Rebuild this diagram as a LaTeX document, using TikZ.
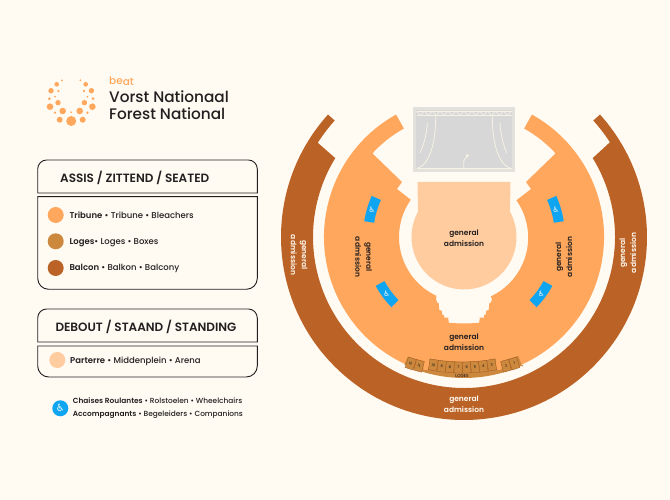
\documentclass[tikz,border=0pt]{standalone}
\usepackage{fontspec}
\setmainfont{Poppins Medium}[BoldFont={Poppins SemiBold}]
\newfontfamily\iconfont{DejaVu Sans}
\definecolor{paper}{HTML}{FFFBF3}
\definecolor{balcon}{HTML}{BB6326}
\definecolor{tribune}{HTML}{FFA85D}
\definecolor{loge}{HTML}{CC893E}
\definecolor{parterre}{HTML}{FFCC9F}
\definecolor{wheel}{HTML}{0FA5F0}
\definecolor{ink}{HTML}{231F20}
\definecolor{stagegray}{HTML}{D6D7D6}
\definecolor{stageedge}{HTML}{E2E1DC}
\definecolor{stageline}{HTML}{F8F2E4}
\tikzset{
	swatch/.style={circle,inner sep=0pt,minimum size=16pt},
	legendbox/.style={draw=ink,line width=0.9pt},
	headtext/.style={anchor=base west,inner sep=0pt,text=ink,font=\fontsize{12}{12}\selectfont\bfseries},
	legendtext/.style={anchor=base west,inner sep=0pt,text=ink,font=\fontsize{8.5}{9}\selectfont},
	smalltext/.style={anchor=base west,inner sep=0pt,text=ink,font=\fontsize{7.4}{8}\selectfont},
	gatext/.style={align=center,text=ink,font=\fontsize{7.5}{11}\selectfont\bfseries},
	logotext/.style={anchor=base west,inner sep=0pt,text=ink,font=\fontsize{15.3}{16}\selectfont},
	logebox/.style={draw=balcon!85!black,line width=0.3pt,fill=loge,inner sep=0pt,minimum width=8.2pt,minimum height=11pt,text=ink,font=\fontsize{3.6}{4}\selectfont},
	stagepen/.style={draw=stageline,line width=0.8pt},
}
\begin{document}
\begin{tikzpicture}[x=1pt,y=1pt]
	\fill[paper] (0,0) rectangle (670,500);
	\useasboundingbox (0,0) rectangle (670,500);

	% logo
	\fill[tribune] (71.2,379) circle (5);
	\fill[tribune] (71.2,387.7) circle (1);
	\foreach \dx/\yy/\rr in {11.5/380.3/3,8.5/389/3.3,21.2/393.3/3.3,13.2/397.3/2.7,21.8/401.3/1.5,20.2/409.3/2.7,12.8/409/1.3,16.2/403.3/1,14.5/415.7/2.3,9.2/419.7/1,16.2/387.3/1.3}{
		\fill[tribune] (71.2-\dx,\yy) circle (\rr);
		\fill[tribune] (71.2+\dx,\yy) circle (\rr);
	}
	\node[anchor=base west,inner sep=0pt,text=tribune,font=\fontsize{10.5}{10}\selectfont] (beat) at (109,415.7) {be\raisebox{-1.5pt}{at}};
	\node[logotext] (vorst) at (109,397.4) {Vorst Nationaal};
	\node[logotext] (forest) at (109,380.7) {Forest National};

	% seated legend
	\draw[legendbox] (37.7,307) {[rounded corners=9] -- (37.7,340) -- (257.3,340)} -- (257.3,307) -- cycle;
	\node[headtext] (seated) at (60,317.7) {ASSIS / ZITTEND / SEATED};
	\draw[legendbox] (37.7,303.3) {[rounded corners=11] -- (37.7,210.7) -- (257.3,210.7)} -- (257.3,303.3) -- cycle;
	\node[swatch,fill=tribune] (c1) at (55.7,285) {};
	\node[swatch,fill=loge] (c2) at (55.7,258.7) {};
	\node[swatch,fill=balcon] (c3) at (55.7,232) {};
	\node[legendtext] (t1) at (69.3,281) {\textbf{Tribune} • Tribune • Bleachers};
	\node[legendtext] (t2) at (69.3,255) {\textbf{Loges}• Loges • Boxes};
	\node[legendtext] (t3) at (69.3,229) {\textbf{Balcon} • Balkon • Balcony};

	% standing legend
	\draw[legendbox] (37.7,158) {[rounded corners=9] -- (37.7,191) -- (257.3,191)} -- (257.3,158) -- cycle;
	\node[headtext] (standing) at (55.3,168.4) {DEBOUT / STAAND / STANDING};
	\draw[legendbox] (37.7,154) {[rounded corners=11] -- (37.7,123) -- (257.3,123)} -- (257.3,154) -- cycle;
	\node[swatch,fill=parterre] (c4) at (57.3,140) {};
	\node[legendtext] (t4) at (70,136.3) {\textbf{Parterre} • Middenplein • Arena};

	% wheelchairs
	\node[swatch,fill=wheel,text=white,font=\iconfont\fontsize{10}{10}\selectfont] (c5) at (60.3,91.7) {♿};
	\node[smalltext] (t5) at (72.7,96) {\textbf{Chaises Roulantes} • Rolstoelen • Wheelchairs};
	\node[smalltext] (t6) at (72.7,83) {\textbf{Accompagnants} • Begeleiders • Companions};

	\begin{scope}[shift={(464,263)}]
		% balcon
		\fill[balcon] (138:183) arc[start angle=138,end angle=402,radius=183]
			-- (42:174) arc[start angle=42,end angle=33,radius=174]
			-- (31.5:151) arc[start angle=391.5,end angle=148.5,radius=151]
			-- (147.2:174) arc[start angle=147.2,end angle=138,radius=174] -- cycle;

		% tribune
		\fill[tribune] (119:140) arc[start angle=119,end angle=421,radius=140]
			-- (61:124) arc[start angle=61,end angle=42.4,radius=124]
			-- (62,55) -- (67,48) -- (35:64) arc[start angle=35,end angle=-65,radius=65]
			-- (28,-62) -- (26.7,-66) -- (25.3,-66) -- (24.7,-73) -- (22.3,-73.7) -- (21.7,-77.7) -- (20,-78) -- (20,-80.7) -- (15.7,-80.7) -- (15.3,-85.7)
			.. controls (5,-86.7) and (-5,-86.7) .. (-15.3,-85.7)
			-- (-15.7,-80.7) -- (-20,-80.7) -- (-20,-78) -- (-21.7,-77.7) -- (-22.3,-73.7) -- (-24.7,-73) -- (-25.3,-66) -- (-26.7,-66) -- (-28,-62)
			-- (245:65) arc[start angle=245,end angle=145,radius=65]
			-- (-67,48) -- (-62,55) -- (137.6:124) arc[start angle=137.6,end angle=119,radius=124] -- cycle;

		% parterre
		\fill[parterre] (-46.5,55) -- (151.2:52.5) arc[start angle=151.2,end angle=388.8,radius=52.5] -- (46.5,55) -- cycle;

		% wheelchair places
		\foreach \a/\b in {156/171,209/224,316/331,9/24}{
			\fill[wheel] (\a:91) arc[start angle=\a,end angle=\b,radius=91] -- (\b:101) arc[start angle=\b,end angle=\a,radius=101] -- cycle;
			\pgfmathsetmacro{\m}{(\a+\b)/2}
			\node[inner sep=0pt,text=white,font=\iconfont\fontsize{7.5}{8}\selectfont] (place\a) at (\m:96) {♿};
		}

		% loges
		\fill[loge] (245:141) arc[start angle=245,end angle=295,radius=141]
			-- (58.3,-129.7) -- (54.3,-119) -- (37.7,-124) -- (37.7,-133) -- (32,-133) -- (32,-121.7)
			.. controls (10,-125.5) and (-12,-125.5) .. (-34.7,-121.7)
			-- (-34.7,-133) -- (-40.7,-133) -- (-40.7,-124.7) -- (-56.3,-119.7) -- cycle;
		\foreach \n/\x/\y/\r in {12/-53.3/-126.5/-18,11/-45/-128.8/-15,10/-30.7/-128/-10,9/-22.3/-129.3/-7,8/-14/-130/-5,7/-5.7/-130.5/-2,6/2.7/-130.5/2,5/11/-130/5,4/19.3/-129.3/7,3/27.7/-128/10,2/42/-128.8/15,1/50.3/-126.5/18}{
			\node[logebox,rotate=\r] (loge\n) at (\x,\y) {\n};
		}
		\node[inner sep=0pt,text=ink,font=\fontsize{4.2}{5}\selectfont] (loges) at (-2,-139) {LOGES};

		% stage
		\draw[stageedge,line width=2.6pt,fill=stagegray] (-49.5,128.5) rectangle (49.5,66.5);
		\draw[stagepen] (-47.5,126) -- (47.5,126);
		\draw[stagepen] (-47.5,121.4) -- (47.5,121.4);
		\draw[stagepen] (-47.5,68.5) -- (47.5,68.5);
		\foreach \x in {-47.5,-39.6,...,40}{
			\draw[stagepen,line width=0.6pt] (\x,126) -- (\x+3.95,121.4) -- (\x+7.9,126);
		}
		\draw[stagepen] (-28.3,121) .. controls (-28.3,95) and (-34,72) .. (-47.3,68.5);
		\draw[stagepen] (28.3,121) .. controls (28.3,95) and (34,72) .. (47.3,68.5);
		\draw[stagepen] (-36.7,114.3) .. controls (-37,105) and (-40,92) .. (-44,84.3);
		\draw[stagepen] (36,114.3) .. controls (36.3,105) and (39,92) .. (42.7,84.3);
		\draw[stagepen] (-0.3,68) -- (-0.3,76) -- (3.3,81.3);
		\fill[stageline] (3.3,81.3) circle (1.7);

		% admission labels
		\node[gatext] (gaparterre) at (0,-1.5) {general\\admission};
		\node[gatext] (gatribune) at (0,-105.5) {general\\admission};
		\node[gatext,text=paper] (gabalcon) at (0,-167) {general\\admission};
		\node[gatext,rotate=-90] (galeft) at (-100.5,-20) {general\\admission};
		\node[gatext,rotate=90] (garight) at (100,-20) {general\\admission};
		\node[gatext,text=paper,rotate=-90] (gafarleft) at (-165,-18) {general\\admission};
		\node[gatext,text=paper,rotate=90] (gafarright) at (164,-16) {general\\admission};
	\end{scope}
\end{tikzpicture}
\end{document}
